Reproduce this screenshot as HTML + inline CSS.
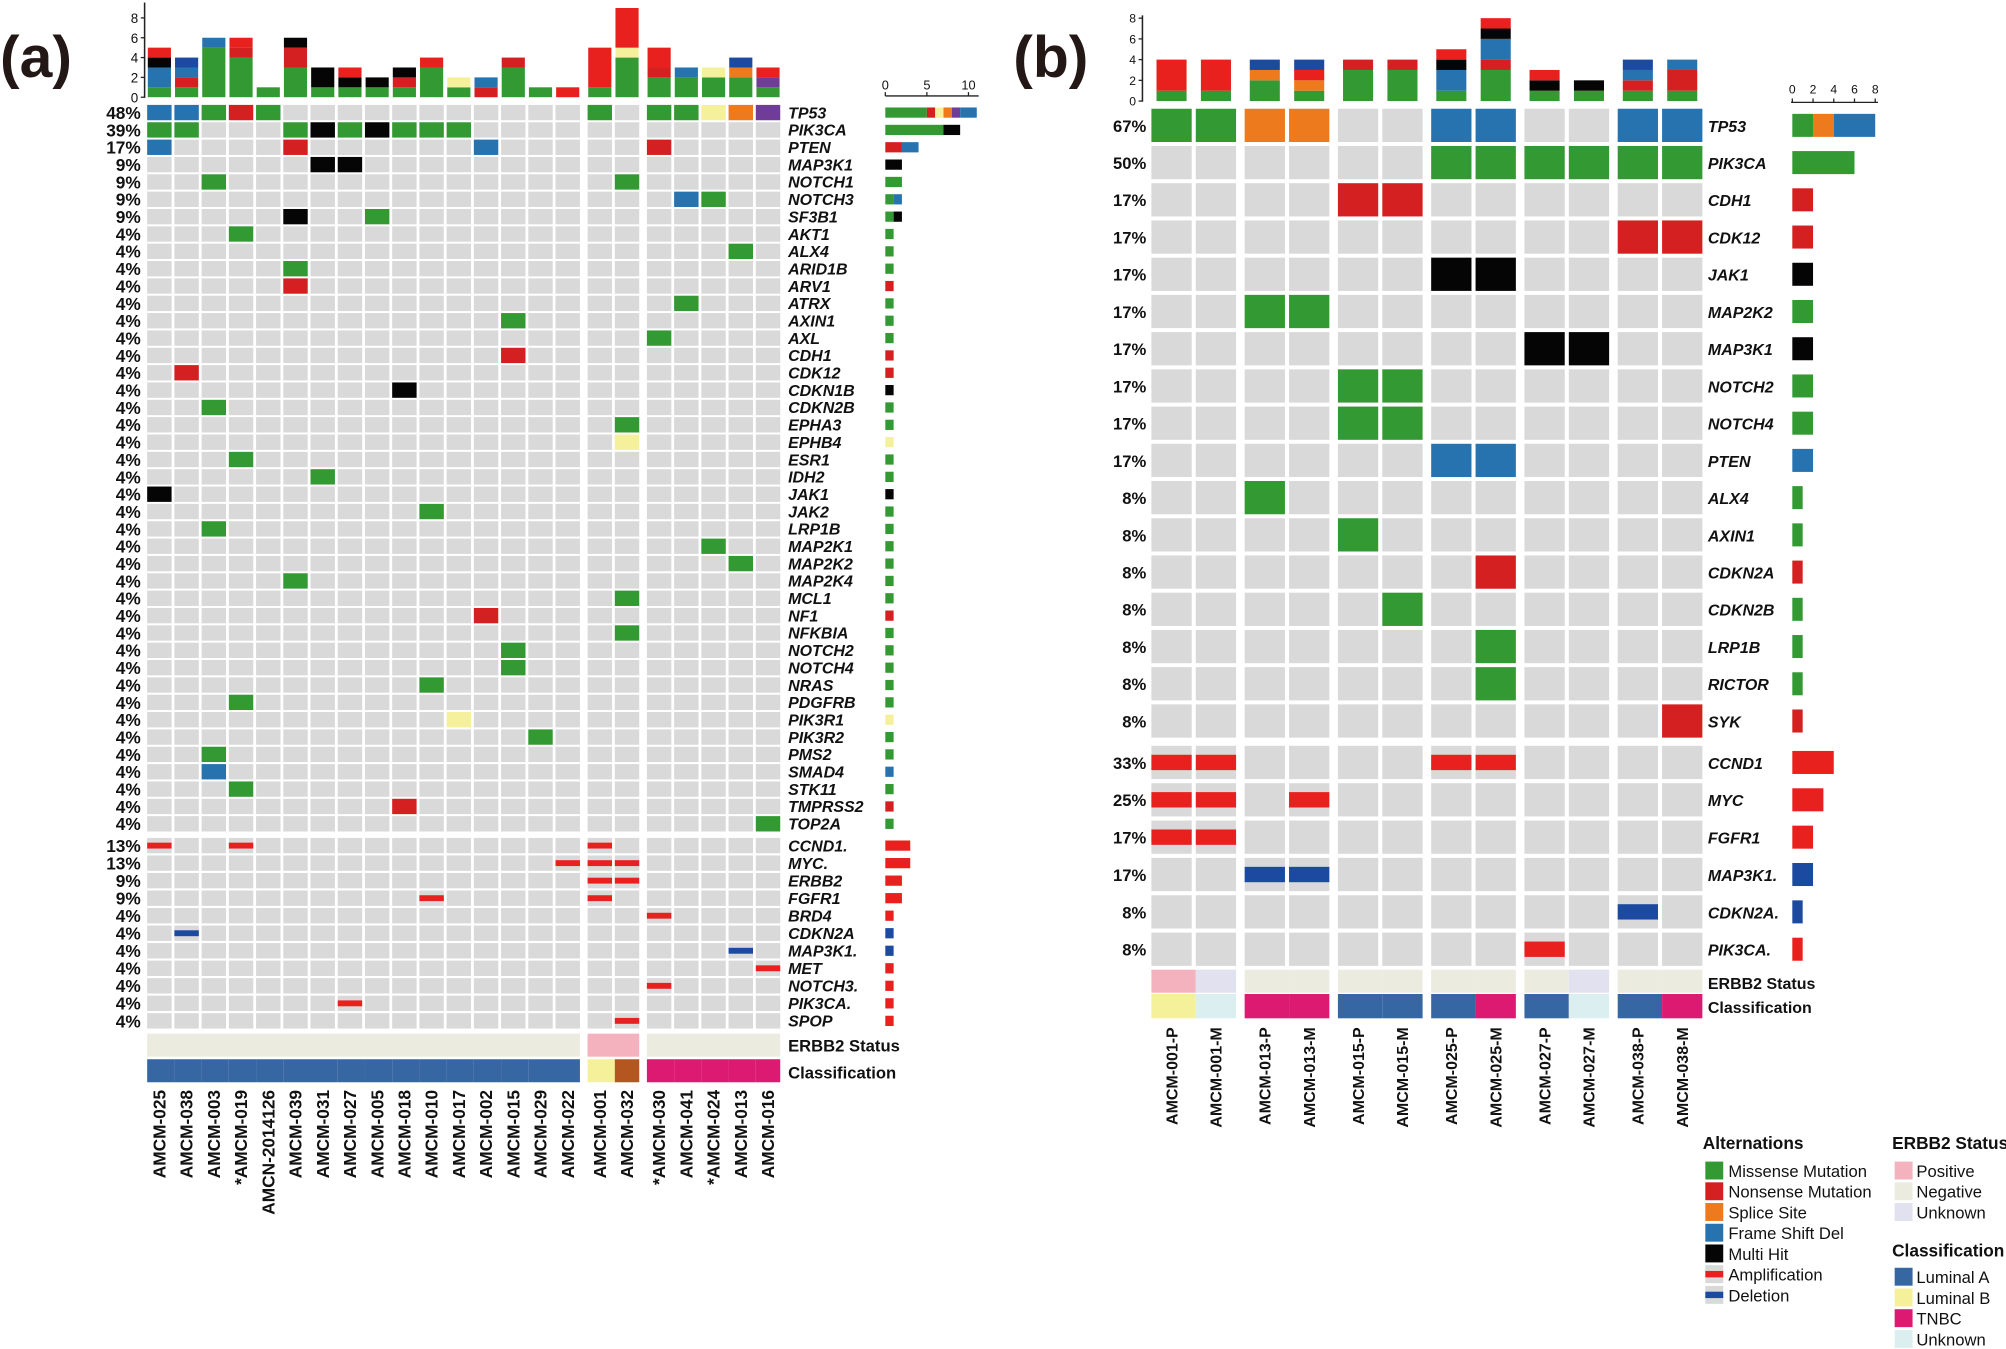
<!DOCTYPE html>
<html><head><meta charset="utf-8">
<style>
html,body{margin:0;padding:0;background:#fff;}
svg{display:block;}
text{font-family:"Liberation Sans",Arial,sans-serif;}
</style></head>
<body>
<svg id="s" xmlns="http://www.w3.org/2000/svg" width="2006" height="1349" viewBox="0 0 1568 1054.5">
<rect x="0" y="0" width="1568" height="1054.5" fill="#fff"/>
<text x="0" y="60" font-size="46" font-weight="bold" fill="#231815">(a)</text>
<text x="792" y="60" font-size="46" font-weight="bold" fill="#231815">(b)</text>
</svg>
<script>
var S=document.getElementById('s');var NS='http://www.w3.org/2000/svg';
function el(t,a,txt){var e=document.createElementNS(NS,t);for(var k in a)e.setAttribute(k,a[k]);if(txt!==undefined)e.textContent=txt;S.appendChild(e);return e;}
function R(x,y,w,h,f){el('rect',{x:x,y:y,width:w,height:h,fill:f});}
function T(x,y,s,o){var a={x:x,y:y,'font-size':o.fs||12,fill:'#111'};if(o.b)a['font-weight']='bold';if(o.i)a['font-style']='italic';if(o.a)a['text-anchor']=o.a;if(o.tr)a.transform=o.tr;el('text',a,s);}
var C={G:'#339933',N:'#d42020',O:'#ee7a1e',B:'#2673b0',Y:'#f5f09c',P:'#6f3d98',K:'#050505',A:'#e8201e',D:'#1c4aa0'};
var GRAY='#d9d9d9';
var orderTop=['G','N','O','B','Y','P','K','A','D'];
var orderSide=['G','N','Y','O','P','B','K','A','D'];

// ---------- Panel A ----------
var aS=['AMCM-025','AMCM-038','AMCM-003','*AMCM-019','AMCN-2014126','AMCM-039','AMCM-031','AMCM-027','AMCM-005','AMCM-018','AMCM-010','AMCM-017','AMCM-002','AMCM-015','AMCM-029','AMCM-022','AMCM-001','AMCM-032','*AMCM-030','AMCM-041','*AMCM-024','AMCM-013','AMCM-016'];
var aM=[['TP53','48%',{0:'B',1:'B',2:'G',3:'N',4:'G',16:'G',18:'G',19:'G',20:'Y',21:'O',22:'P'}],
['PIK3CA','39%',{0:'G',1:'G',5:'G',6:'K',7:'G',8:'K',9:'G',10:'G',11:'G'}],
['PTEN','17%',{0:'B',5:'N',12:'B',18:'N'}],
['MAP3K1','9%',{6:'K',7:'K'}],['NOTCH1','9%',{2:'G',17:'G'}],['NOTCH3','9%',{19:'B',20:'G'}],['SF3B1','9%',{5:'K',8:'G'}],
['AKT1','4%',{3:'G'}],['ALX4','4%',{21:'G'}],['ARID1B','4%',{5:'G'}],['ARV1','4%',{5:'N'}],['ATRX','4%',{19:'G'}],['AXIN1','4%',{13:'G'}],['AXL','4%',{18:'G'}],['CDH1','4%',{13:'N'}],['CDK12','4%',{1:'N'}],['CDKN1B','4%',{9:'K'}],['CDKN2B','4%',{2:'G'}],['EPHA3','4%',{17:'G'}],['EPHB4','4%',{17:'Y'}],['ESR1','4%',{3:'G'}],['IDH2','4%',{6:'G'}],['JAK1','4%',{0:'K'}],['JAK2','4%',{10:'G'}],['LRP1B','4%',{2:'G'}],['MAP2K1','4%',{20:'G'}],['MAP2K2','4%',{21:'G'}],['MAP2K4','4%',{5:'G'}],['MCL1','4%',{17:'G'}],['NF1','4%',{12:'N'}],['NFKBIA','4%',{17:'G'}],['NOTCH2','4%',{13:'G'}],['NOTCH4','4%',{13:'G'}],['NRAS','4%',{10:'G'}],['PDGFRB','4%',{3:'G'}],['PIK3R1','4%',{11:'Y'}],['PIK3R2','4%',{14:'G'}],['PMS2','4%',{2:'G'}],['SMAD4','4%',{2:'B'}],['STK11','4%',{3:'G'}],['TMPRSS2','4%',{9:'N'}],['TOP2A','4%',{22:'G'}]];
var aC=[['CCND1.','13%',{0:'A',3:'A',16:'A'}],['MYC.','13%',{15:'A',16:'A',17:'A'}],['ERBB2','9%',{16:'A',17:'A'}],['FGFR1','9%',{10:'A',16:'A'}],['BRD4','4%',{18:'A'}],['CDKN2A','4%',{1:'D'}],['MAP3K1.','4%',{21:'D'}],['MET','4%',{22:'A'}],['NOTCH3.','4%',{18:'A'}],['PIK3CA.','4%',{7:'A'}],['SPOP','4%',{17:'A'}]];
function ax(i){return 115+i*21.28+(i>=16?3.8:0)+(i>=18?3.8:0);}
var aw=19.1, ah=12;
var counts=[];for(var i=0;i<23;i++)counts.push({});
aM.forEach(function(r,ri){var cy=88+ri*13.56;
 for(var i=0;i<23;i++){var v=r[2][i];R(ax(i),cy-ah/2,aw,ah,v?C[v]:GRAY);if(v)counts[i][v]=(counts[i][v]||0)+1;}
 T(110,cy+5,r[1],{fs:13.5,b:1,a:'end'});T(616,cy+4.5,r[0],{fs:12.5,b:1,i:1});
 sideBar(692,cy,r[2],6.5,8);
});
aC.forEach(function(r,ri){var cy=661+ri*13.7;
 for(var i=0;i<23;i++){var v=r[2][i];R(ax(i),cy-ah/2,aw,ah,GRAY);if(v){R(ax(i),cy-2.3,aw,4.6,C[v]);counts[i][v]=(counts[i][v]||0)+1;}}
 T(110,cy+5,r[1],{fs:13.5,b:1,a:'end'});T(616,cy+4.5,r[0],{fs:12.5,b:1,i:1});
 sideBar(692,cy,r[2],6.5,8);
});
counts[17]['A']=4;
function sideBar(x0,cy,d,u,h){var c={};for(var k in d)c[d[k]]=(c[d[k]]||0)+1;var x=x0;orderSide.forEach(function(t){if(c[t]){R(x,cy-h/2,c[t]*u,h,C[t]);x+=c[t]*u;}});}
// top bars A
for(var i=0;i<23;i++){var y=76;orderTop.forEach(function(t){var n=counts[i][t];if(n){R(ax(i)+0.5,y-n*7.75,aw-1,n*7.75,C[t]);y-=n*7.75;}});}
el('line',{x1:113,y1:2,x2:113,y2:76.5,stroke:'#222','stroke-width':1.2});
for(var k=0;k<=8;k+=2){var y=76-k*7.75;el('line',{x1:110,y1:y,x2:113,y2:y,stroke:'#222','stroke-width':1});T(108,y+4,''+k,{fs:10.5,a:'end',b:0});}
// side axis A
el('line',{x1:692,y1:75,x2:765,y2:75,stroke:'#222','stroke-width':1});
[0,5,10].forEach(function(k){var x=692+k*6.5;el('line',{x1:x,y1:72,x2:x,y2:75,stroke:'#222'});T(x,70,''+k,{fs:10,a:'middle'});});
// status A
var grpA=[[0,15],[16,17],[18,22]];
grpA.forEach(function(g){var x=ax(g[0]),w=ax(g[1])+aw-x;R(x,808,w,18,g[0]==16?'#f3b2bd':'#ebebdf');});
for(var i=0;i<23;i++){var c=i<16?'#3767a3':(i==16?'#f5f09a':(i==17?'#b4561f':'#dc1a72'));var x=ax(i),w=aw+(i==15||i==17||i==22?0:2.2);R(x,828,w,18,c);}
T(616,822,'ERBB2 Status',{fs:13,b:1});T(616,843,'Classification',{fs:13,b:1});
aS.forEach(function(s,i){var x=ax(i)+aw/2+4.8;T(x,852,s,{fs:13.5,b:1,a:'end',tr:'rotate(-90 '+x+' 852)'});});

// ---------- Panel B ----------
var bS=['AMCM-001-P','AMCM-001-M','AMCM-013-P','AMCM-013-M','AMCM-015-P','AMCM-015-M','AMCM-025-P','AMCM-025-M','AMCM-027-P','AMCM-027-M','AMCM-038-P','AMCM-038-M'];
var bM=[['TP53','67%',{0:'G',1:'G',2:'O',3:'O',6:'B',7:'B',10:'B',11:'B'}],['PIK3CA','50%',{6:'G',7:'G',8:'G',9:'G',10:'G',11:'G'}],['CDH1','17%',{4:'N',5:'N'}],['CDK12','17%',{10:'N',11:'N'}],['JAK1','17%',{6:'K',7:'K'}],['MAP2K2','17%',{2:'G',3:'G'}],['MAP3K1','17%',{8:'K',9:'K'}],['NOTCH2','17%',{4:'G',5:'G'}],['NOTCH4','17%',{4:'G',5:'G'}],['PTEN','17%',{6:'B',7:'B'}],['ALX4','8%',{2:'G'}],['AXIN1','8%',{4:'G'}],['CDKN2A','8%',{7:'N'}],['CDKN2B','8%',{5:'G'}],['LRP1B','8%',{7:'G'}],['RICTOR','8%',{7:'G'}],['SYK','8%',{11:'N'}]];
var bC=[['CCND1','33%',{0:'A',1:'A',6:'A',7:'A'}],['MYC','25%',{0:'A',1:'A',3:'A'}],['FGFR1','17%',{0:'A',1:'A'}],['MAP3K1.','17%',{2:'D',3:'D'}],['CDKN2A.','8%',{10:'D'}],['PIK3CA.','8%',{8:'A'}]];
function bx(j){return 900+j*34.7+Math.floor(j/2)*3.5;}
var bw=31.5,bh=26;var bc=[];for(var j=0;j<12;j++)bc.push({});
bM.forEach(function(r,ri){var cy=98+ri*29.1;
 for(var j=0;j<12;j++){var v=r[2][j];R(bx(j),cy-bh/2,bw,bh,v?C[v]:GRAY);if(v)bc[j][v]=(bc[j][v]||0)+1;}
 T(896,cy+5,r[1],{fs:13,b:1,a:'end'});T(1335,cy+5,r[0],{fs:12.5,b:1,i:1});
 sideB(r[2],cy);
});
bC.forEach(function(r,ri){var cy=596+ri*29.2;
 for(var j=0;j<12;j++){var v=r[2][j];R(bx(j),cy-bh/2,bw,bh,GRAY);if(v){R(bx(j),cy-6,bw,12,C[v]);bc[j][v]=(bc[j][v]||0)+1;}}
 T(896,cy+5,r[1],{fs:13,b:1,a:'end'});T(1335,cy+5,r[0],{fs:12.5,b:1,i:1});
 sideB(r[2],cy);
});
function sideB(d,cy){var c={};for(var k in d)c[d[k]]=(c[d[k]]||0)+1;var x=1401;orderSide.forEach(function(t){if(c[t]){R(x,cy-9,c[t]*8.1,18,C[t]);x+=c[t]*8.1;}});}
for(var j=0;j<12;j++){var y=79;orderTop.forEach(function(t){var n=bc[j][t];if(n){R(bx(j)+4,y-n*8.1,bw-8,n*8.1,C[t]);y-=n*8.1;}});}
el('line',{x1:893,y1:12,x2:893,y2:79.5,stroke:'#222','stroke-width':1.2});
for(var k=0;k<=8;k+=2){var y=79-k*8.1;el('line',{x1:890,y1:y,x2:893,y2:y,stroke:'#222'});T(888,y+3.5,''+k,{fs:9.5,a:'end'});}
el('line',{x1:1400,y1:80,x2:1468,y2:80,stroke:'#222'});
[0,2,4,6,8].forEach(function(k){var x=1401+k*8.1;el('line',{x1:x,y1:77,x2:x,y2:80,stroke:'#222'});T(x,73,''+k,{fs:9.5,a:'middle'});});
var bE=['#f3b2bd','#e1e1ef','#ebebdf','#ebebdf','#ebebdf','#ebebdf','#ebebdf','#ebebdf','#ebebdf','#e1e1ef','#ebebdf','#ebebdf'];
var bK=['#f5f09a','#dceff0','#dc1a72','#dc1a72','#3767a3','#3767a3','#3767a3','#dc1a72','#3767a3','#dceff0','#3767a3','#dc1a72'];
for(var j=0;j<12;j++){var w=bw+(j%2==0?3.2:0);R(bx(j),758,w,18,bE[j]);R(bx(j),777,w,19,bK[j]);}
T(1335,773,'ERBB2 Status',{fs:12.5,b:1});T(1335,792,'Classification',{fs:12.5,b:1});
bS.forEach(function(s,j){var x=bx(j)+bw/2+4.5;T(x,803,s,{fs:12.5,b:1,a:'end',tr:'rotate(-90 '+x+' 803)'});});

// ---------- Legend ----------
T(1331,898,'Alternations',{fs:13.5,b:1});
var L=[['Missense Mutation','G'],['Nonsense Mutation','N'],['Splice Site','O'],['Frame Shift Del','B'],['Multi Hit','K'],['Amplification','A',1],['Deletion','D',1]];
L.forEach(function(l,i){var y=908+i*16.2;if(l[2]){R(1333,y,14,14,GRAY);R(1333,y+4.5,14,5,C[l[1]]);}else R(1333,y,14,14,C[l[1]]);T(1351,y+12,l[0],{fs:13});});
T(1479,898,'ERBB2 Status',{fs:13.5,b:1});
[['Positive','#f3b2bd'],['Negative','#ebebdf'],['Unknown','#e1e1ef']].forEach(function(l,i){var y=908+i*16.2;R(1481,y,14,14,l[1]);T(1498,y+12,l[0],{fs:13});});
T(1479,982,'Classification',{fs:13.5,b:1});
[['Luminal A','#3767a3'],['Luminal B','#f5f09a'],['TNBC','#dc1a72'],['Unknown','#dceff0']].forEach(function(l,i){var y=991+i*16.2;R(1481,y,14,14,l[1]);T(1498,y+12,l[0],{fs:13});});
</script>
</body></html>
